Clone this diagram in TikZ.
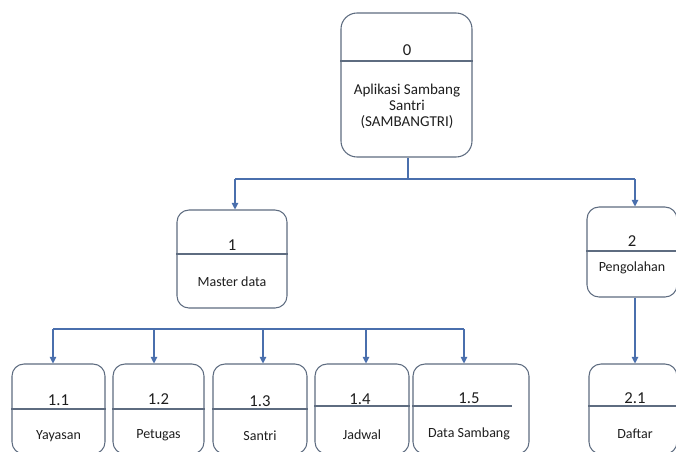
\documentclass[tikz,border=0pt]{standalone}
\usepackage{fontspec}
\setmainfont{Carlito}
\usetikzlibrary{arrows.meta}
\definecolor{boxline}{HTML}{5E6C80}
\definecolor{conn}{HTML}{4A6FAD}
\definecolor{txt}{HTML}{1E1E1E}
\tikzset{
  box/.style={draw=boxline, line width=0.8pt, rounded corners=9pt, rectangle, inner sep=0pt},
  divider/.style={draw=boxline, line width=0.8pt},
  numtxt/.style={font=\fontsize{12.5}{14}\selectfont, text=txt, inner sep=0pt},
  labtxt/.style={font=\fontsize{10.5}{12}\selectfont, text=txt, inner sep=0pt},
  toptxt/.style={font=\fontsize{11.3}{12}\selectfont, text=txt, inner sep=0pt, anchor=base},
  conn/.style={draw=conn, line width=0.8pt},
  arr/.style={conn, -{Triangle[width=5pt,length=5pt]}}
}
\begin{document}
\begin{tikzpicture}[x=0.75pt,y=-0.75pt]
\useasboundingbox (0,0) rectangle (676,451);
% boxes
\node[box, rounded corners=12pt, minimum width={131*0.75pt}, minimum height={144*0.75pt}] (b0) at (406.5,85) {};
\node[box, minimum width={110*0.75pt}, minimum height={98*0.75pt}] (b1) at (232,259) {};
\node[box, minimum width={90*0.75pt}, minimum height={90*0.75pt}] (b2) at (632,252) {};
\node[box, minimum width={93*0.75pt}, minimum height={90*0.75pt}] (b11) at (58.5,409) {};
\node[box, minimum width={91*0.75pt}, minimum height={90*0.75pt}] (b12) at (158.5,409) {};
\node[box, minimum width={94*0.75pt}, minimum height={90*0.75pt}] (b13) at (260,409) {};
\node[box, minimum width={94*0.75pt}, minimum height={90*0.75pt}] (b14) at (362,409) {};
\node[box, minimum width={116*0.75pt}, minimum height={90*0.75pt}] (b15) at (471,409) {};
\node[box, minimum width={88*0.75pt}, minimum height={90*0.75pt}] (b21) at (633,409) {};
% dividers
\path[divider] (b0.west |- 0,61) -- (b0.east |- 0,61);
\path[divider] (b1.west |- 0,254) -- (b1.east |- 0,254);
\path[divider] (b2.west |- 0,251) -- (b2.east |- 0,251);
\path[divider] (b11.west |- 0,409) -- (b11.east |- 0,409);
\path[divider] (b12.west |- 0,409) -- (b12.east |- 0,409);
\path[divider] (b13.west |- 0,409) -- (b13.east |- 0,409);
\path[divider] (b14.west |- 0,406) -- (b14.east |- 0,406);
\path[divider] (b15.west |- 0,406) -- (512,406);
\path[divider] (b21.west |- 0,406) -- (b21.east |- 0,406);
% texts
\node[numtxt] (t0) at (407,50) {0};
\node[toptxt] (t0a) at (407,94) {Aplikasi Sambang};
\node[toptxt] (t0b) at (407,110) {Santri};
\node[toptxt] (t0c) at (407,126) {(SAMBANGTRI)};
\node[numtxt] (t1) at (232,245) {1};
\node[labtxt] (t1b) at (232,282) {Master data};
\node[numtxt] (t2) at (632,241) {2};
\node[labtxt] (t2b) at (632,268) {Pengolahan};
\node[numtxt] (t11) at (58.5,400) {1.1};
\node[labtxt] (t11b) at (58.5,436) {Yayasan};
\node[numtxt] (t12) at (158.5,399) {1.2};
\node[labtxt] (t12b) at (158.5,435) {Petugas};
\node[numtxt] (t13) at (260,401) {1.3};
\node[labtxt] (t13b) at (260,436) {Santri};
\node[numtxt] (t14) at (360,399) {1.4};
\node[labtxt] (t14b) at (362,435) {Jadwal};
\node[numtxt] (t15) at (469,398) {1.5};
\node[labtxt] (t15b) at (469,434) {Data Sambang};
\node[numtxt] (t21) at (635,398) {2.1};
\node[labtxt] (t21b) at (635,434) {Daftar};
% connectors level 0 -> 1
\coordinate (j0) at (408,179);
\coordinate (jl) at (235,179);
\coordinate (jr) at (635,179);
\path[conn] (b0.south -| j0) -- (j0);
\path[conn] (jl) -- (jr);
\path[arr] (jl) -- (b1.north -| jl);
\path[arr] (jr) -- (b2.north -| jr);
% level 1 bar
\coordinate (bl) at (53,329);
\coordinate (br) at (464,329);
\coordinate (c12) at (154,329);
\coordinate (c13) at (263,329);
\coordinate (c14) at (366,329);
\path[conn] (bl) -- (br);
\path[arr] (bl) -- (b11.north -| bl);
\path[arr] (c12) -- (b12.north -| c12);
\path[arr] (c13) -- (b13.north -| c13);
\path[arr] (c14) -- (b14.north -| c14);
\path[arr] (br) -- (b15.north -| br);
% 2 -> 2.1
\coordinate (c21) at (635,297);
\path[arr] (b2.south -| c21) -- (b21.north -| c21);
\end{tikzpicture}
\end{document}
